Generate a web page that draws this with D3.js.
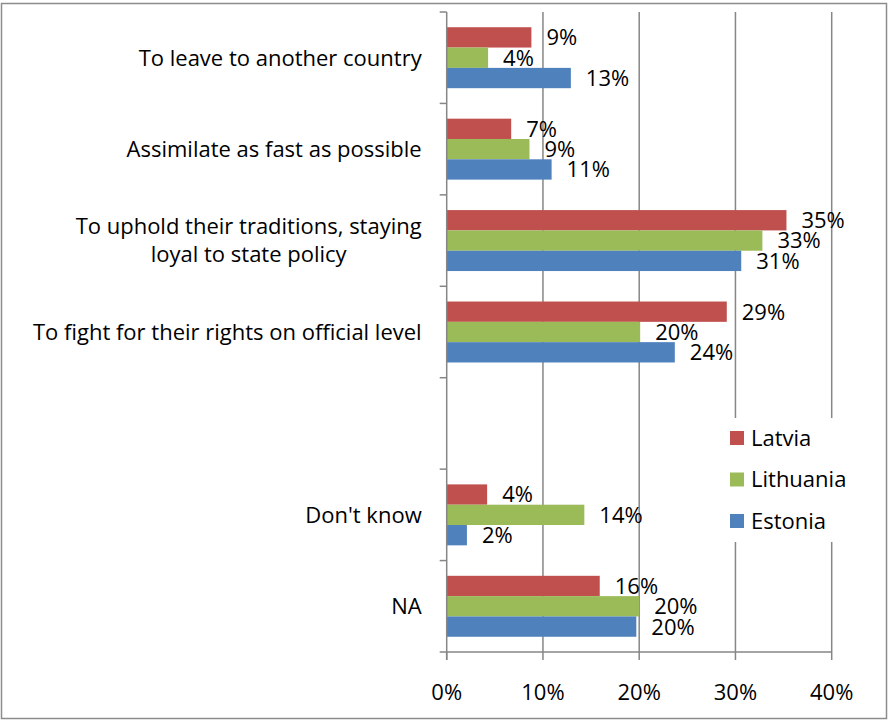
<!DOCTYPE html>
<html>
<head>
<meta charset="utf-8">
<script src="https://cdn.jsdelivr.net/npm/d3@7"></script>
<style>
  html, body { margin: 0; padding: 0; background: #fff; }
  svg { display: block; }
  text { font-family: "Open Sans", Lato, sans-serif; fill: #000; }
</style>
</head>
<body>
<svg id="chart" width="889" height="721"></svg>
<script>
// ---- data ----
const categories = [
  "To leave to another country",
  "Assimilate as fast as possible",
  "To uphold their traditions, staying|loyal to state policy",
  "To fight for their rights on official level",
  "",
  "Don't know",
  "NA"
];
const seriesNames = ["Latvia", "Lithuania", "Estonia"];
const latvia    = [8.8, 6.7, 35.3, 29.1, null, 4.2, 15.9];
const lithuania = [4.3, 8.6, 32.8, 20.1, null, 14.3, 20.0];
const estonia   = [12.9, 10.9, 30.6, 23.7, null, 2.1, 19.7];
const xTicks = [0, 10, 20, 30, 40];
const colors = ["#C0504D", "#9BBB59", "#4F81BD"];

const seriesValues = [latvia, lithuania, estonia];

// ---- layout ----
const svg = d3.select("#chart");
const plot = { left: 446.7, right: 831.7, top: 12, bottom: 652 };
const FS = 22;

svg.append("rect")
  .attr("x", 1.5).attr("y", 3.5).attr("width", 885).attr("height", 715)
  .attr("fill", "#fff").attr("stroke", "#8c8c8c").attr("stroke-width", 1.5);

const x = d3.scaleLinear().domain([0, 40]).range([plot.left, plot.right]);
const y = d3.scaleBand().domain(d3.range(categories.length))
  .range([plot.top, plot.bottom]).paddingInner(0).paddingOuter(0);

// inner band for the three bars (gap width 150%)
const barH = y.bandwidth() / 4.5;
const yInner = d3.scaleBand().domain(d3.range(seriesNames.length))
  .range([0, barH * 3]);
const groupOffset = (y.bandwidth() - barH * 3) / 2;

const gridColor = "#868686";

// gridlines
svg.append("g").selectAll("line").data(xTicks.slice(1)).join("line")
  .attr("x1", d => x(d)).attr("x2", d => x(d))
  .attr("y1", plot.top).attr("y2", plot.bottom)
  .attr("stroke", gridColor).attr("stroke-width", 1.5);

// bars
const groups = svg.append("g").selectAll("g").data(seriesNames).join("g")
  .attr("fill", (d, i) => colors[i]);

groups.each(function(name, si) {
  const vals = seriesValues[si];
  const data = vals.map((v, ci) => ({ v, ci })).filter(d => d.v != null);
  d3.select(this).selectAll("rect").data(data).join("rect")
    .attr("x", x(0))
    .attr("y", d => y(d.ci) + groupOffset + yInner(si))
    .attr("width", d => x(d.v) - x(0))
    .attr("height", yInner.bandwidth());
  d3.select(this).selectAll("text").data(data).join("text")
    .attr("x", d => x(d.v) + 15)
    .attr("y", d => y(d.ci) + groupOffset + yInner(si) + yInner.bandwidth() / 2)
    .attr("dy", "0.36em")
    .attr("font-size", FS)
    .style("fill", "#000")
    .text(d => Math.round(d.v) + "%");
});

// y axis
const yAxisG = svg.append("g");
yAxisG.append("line")
  .attr("x1", plot.left).attr("x2", plot.left)
  .attr("y1", plot.top).attr("y2", plot.bottom + 8)
  .attr("stroke", gridColor).attr("stroke-width", 1.5);
const catTicks = d3.range(categories.length + 1).map(i => plot.top + i * y.step());
yAxisG.selectAll("line.tick").data(catTicks).join("line")
  .attr("class", "tick")
  .attr("x1", plot.left - 7).attr("x2", plot.left)
  .attr("y1", d => d).attr("y2", d => d)
  .attr("stroke", gridColor).attr("stroke-width", 1.5);

// category labels
const labelsG = svg.append("g");
categories.forEach((c, i) => {
  if (!c) return;
  const lines = c.split("|");
  const cy = y(i) + y.bandwidth() / 2;
  if (lines.length === 1) {
    labelsG.append("text")
      .attr("x", plot.left - 25).attr("y", cy).attr("dy", "0.36em")
      .attr("text-anchor", "end").attr("font-size", FS).text(lines[0]);
  } else {
    const t = labelsG.append("text").attr("font-size", FS);
    const lh = 28;
    lines.forEach((ln, k) => {
      t.append("tspan").attr("x", 0).attr("y", cy + (k - (lines.length - 1) / 2) * lh)
        .attr("dy", "0.36em").attr("text-anchor", "middle").text(ln);
    });
    const w = d3.max(t.selectAll("tspan").nodes(), n => n.getComputedTextLength());
    t.attr("transform", `translate(${plot.left - 25 - w / 2},0)`);
  }
});

// x axis
const xAxisG = svg.append("g");
xAxisG.append("line")
  .attr("x1", plot.left).attr("x2", plot.right)
  .attr("y1", plot.bottom).attr("y2", plot.bottom)
  .attr("stroke", gridColor).attr("stroke-width", 1.5);
xAxisG.selectAll("line.tick").data(xTicks).join("line")
  .attr("class", "tick")
  .attr("x1", d => x(d)).attr("x2", d => x(d))
  .attr("y1", plot.bottom).attr("y2", plot.bottom + 8)
  .attr("stroke", gridColor).attr("stroke-width", 1.5);
xAxisG.selectAll("text").data(xTicks).join("text")
  .attr("x", d => x(d)).attr("y", 692).attr("dy", "0.36em")
  .attr("text-anchor", "middle").attr("font-size", FS)
  .text(d => d + "%");

// legend
const legend = svg.append("g");
legend.append("rect")
  .attr("x", 722).attr("y", 418).attr("width", 140).attr("height", 124)
  .attr("fill", "#fff");
seriesNames.forEach((n, i) => {
  const ly = 438 + i * 41.5;
  legend.append("rect")
    .attr("x", 730).attr("y", ly - 7).attr("width", 14).attr("height", 14)
    .attr("fill", colors[i]);
  legend.append("text")
    .attr("x", 751).attr("y", ly).attr("dy", "0.36em")
    .attr("font-size", FS).text(n);
});
</script>
</body>
</html>
